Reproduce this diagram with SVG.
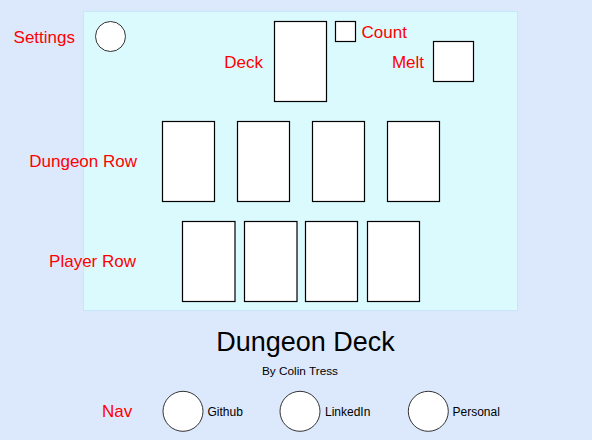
<svg xmlns="http://www.w3.org/2000/svg" width="592" height="440" viewBox="0 0 592 440">
<style>
.lbl{font-family:"Liberation Sans",Arial,sans-serif;font-size:17px;fill:#ff0000}
.card{fill:#ffffff;stroke:#000000;stroke-width:1.2}
.btn{fill:#ffffff;stroke:#333333;stroke-width:1}
.small{font-family:"Liberation Sans",Arial,sans-serif;font-size:12px;fill:#000000}
</style>
<rect x="0" y="0" width="592" height="440" fill="#dce9fd"/>
<g id="board">
<rect x="83.5" y="11.5" width="434" height="299" fill="#dafafe" stroke="#c8e6fb" stroke-width="1"/>
</g>
<g id="settings">
<circle class="btn" cx="110.5" cy="36.5" r="15"/>
<text class="lbl" x="75" y="43" text-anchor="end">Settings</text>
</g>
<g id="deck">
<rect class="card" x="274.5" y="21.5" width="52" height="80"/>
<text class="lbl" x="263" y="68" text-anchor="end">Deck</text>
</g>
<g id="count">
<rect class="card" x="335.5" y="21.5" width="20" height="20"/>
<text class="lbl" x="361.5" y="38">Count</text>
</g>
<g id="melt">
<rect class="card" x="433.5" y="41.5" width="40" height="40"/>
<text class="lbl" x="424" y="68" text-anchor="end">Melt</text>
</g>
<g id="dungeon-row">
<text class="lbl" x="137" y="167" text-anchor="end">Dungeon Row</text>
<rect class="card" x="162.5" y="121.5" width="52" height="80"/>
<rect class="card" x="237.5" y="121.5" width="52" height="80"/>
<rect class="card" x="312.5" y="121.5" width="52" height="80"/>
<rect class="card" x="387.5" y="121.5" width="52" height="80"/>
</g>
<g id="player-row">
<text class="lbl" x="136" y="267" text-anchor="end">Player Row</text>
<rect class="card" x="182.5" y="221.5" width="52.5" height="80"/>
<rect class="card" x="244.5" y="221.5" width="52.5" height="80"/>
<rect class="card" x="305.5" y="221.5" width="52" height="80"/>
<rect class="card" x="367.5" y="221.5" width="52" height="80"/>
</g>
<g id="title">
<text x="305.5" y="350.5" text-anchor="middle" font-family="'Liberation Sans',Arial,sans-serif" font-size="27" fill="#000000">Dungeon Deck</text>
<text x="300" y="375" text-anchor="middle" font-family="'Liberation Sans',Arial,sans-serif" font-size="11.8" fill="#000000">By Colin Tress</text>
</g>
<g id="nav">
<text class="lbl" x="102" y="417" font-size="16">Nav</text>
</g>
<g id="github">
<circle class="btn" cx="183" cy="411.3" r="20"/>
<text class="small" x="207.5" y="415.5">Github</text>
</g>
<g id="linkedin">
<circle class="btn" cx="300" cy="411.3" r="20"/>
<text class="small" x="325" y="415.5">LinkedIn</text>
</g>
<g id="personal">
<circle class="btn" cx="428.3" cy="411.3" r="20"/>
<text class="small" x="452.5" y="415.5">Personal</text>
</g>
<g id="connectors"></g>
</svg>
